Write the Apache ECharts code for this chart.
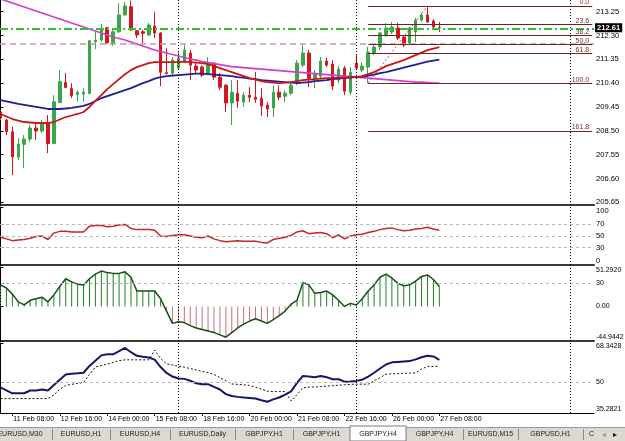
<!DOCTYPE html>
<html><head><meta charset="utf-8">
<script src="https://cdn.jsdelivr.net/npm/echarts@6/dist/echarts.min.js"></script>
<style>html,body{margin:0;padding:0;background:#fff}#c{width:625px;height:441px}</style>
</head><body><div id="c"></div>
<script>
// ---------- data ----------
const open = [209.25,208.93,208.46,207.45,207.96,208.17,208.61,208.49,208.79,207.99,
 209.62,210.43,210.19,209.95,209.96,209.99,212.05,212.12,212.61,211.99,
 212.45,213.12,213.45,212.49,212.45,212.32,212.68,212.40,210.82,210.80,
 211.00,211.24,211.60,211.08,211.04,210.80,211.20,210.64,210.32,209.61,
 210.00,209.64,209.92,209.84,209.80,209.53,209.41,210.04,209.88,210.00,
 210.44,211.12,211.60,210.60,210.68,211.28,211.16,210.52,211.00,210.04,
 211.20,210.92,211.04,211.60,211.84,212.32,212.44,212.60,212.24,212.00,
 212.44,212.92,213.12,212.88,212.62];
const close = [209.01,208.46,207.46,207.97,208.17,208.61,208.49,208.77,207.99,209.66,
 210.46,210.23,209.90,210.03,210.04,212.09,212.12,212.59,212.01,212.45,
 213.12,213.48,212.52,212.32,212.39,212.72,212.40,210.84,210.78,211.32,
 211.40,211.72,211.12,210.92,210.72,211.16,210.64,210.24,209.61,210.04,
 209.68,209.92,209.84,209.76,209.49,209.37,210.04,209.84,210.00,210.32,
 211.20,211.60,210.60,210.76,211.28,211.12,210.28,210.96,210.08,210.84,
 211.00,211.08,211.64,211.84,212.40,212.60,212.64,212.20,211.92,212.60,
 212.92,213.12,212.84,212.64,212.61];
const low = [208.93,208.33,206.73,207.33,207.01,208.06,208.13,208.41,207.61,207.97,
 209.61,210.20,209.80,209.66,209.66,209.96,211.76,212.05,211.96,211.88,
 212.40,213.10,212.48,212.20,212.00,212.28,212.20,210.28,210.76,210.68,
 210.92,211.20,210.52,210.80,210.64,210.72,210.52,210.12,209.25,208.73,
 209.41,209.45,209.64,209.61,209.09,209.05,209.05,209.72,209.64,209.92,
 210.32,211.04,210.24,210.20,210.60,211.04,210.12,210.40,209.92,209.92,
 210.92,210.84,210.40,211.52,211.72,212.24,212.36,212.12,211.84,211.92,
 212.04,212.84,212.80,212.52,212.44];
const high = [209.33,208.97,208.66,208.21,208.33,208.73,208.77,208.93,209.13,209.92,
 210.92,210.80,210.40,210.12,210.20,212.12,212.45,212.76,212.65,212.56,
 213.59,213.64,213.70,212.52,212.52,212.80,213.25,212.44,211.80,211.44,
 211.64,211.92,211.72,211.20,211.12,211.44,211.24,210.80,210.36,210.52,
 210.52,210.04,210.24,210.84,210.20,209.64,210.32,210.32,210.12,210.44,
 211.32,211.92,211.72,210.92,211.44,211.40,211.32,211.08,211.08,211.04,
 211.52,211.24,211.84,211.96,212.44,212.80,212.84,212.80,212.32,212.64,
 213.00,213.20,213.48,212.96,212.84];
const maRed = [209.17,209.07,208.97,208.91,208.85,208.83,208.81,208.81,208.81,208.85,
 208.95,209.05,209.11,209.17,209.25,209.45,209.69,209.92,210.16,210.36,
 210.56,210.76,210.92,211.04,211.12,211.20,211.24,211.24,211.24,211.24,
 211.24,211.26,211.24,211.22,211.20,211.16,211.08,211.00,210.92,210.84,
 210.76,210.68,210.60,210.54,210.48,210.44,210.42,210.40,210.42,210.44,
 210.48,210.52,210.54,210.56,210.58,210.60,210.60,210.62,210.62,210.64,
 210.64,210.68,210.76,210.84,210.96,211.08,211.16,211.24,211.32,211.42,
 211.52,211.62,211.72,211.78,211.84];
const maBlue = [209.72,209.67,209.62,209.57,209.53,209.49,209.45,209.41,209.37,209.37,
 209.37,209.39,209.41,209.45,209.49,209.57,209.69,209.80,209.88,209.96,
 210.04,210.12,210.20,210.30,210.40,210.48,210.58,210.64,210.68,210.70,
 210.72,210.74,210.76,210.78,210.78,210.76,210.74,210.72,210.70,210.68,
 210.64,210.62,210.58,210.56,210.52,210.50,210.48,210.46,210.44,210.42,
 210.40,210.42,210.44,210.48,210.50,210.52,210.56,210.58,210.60,210.62,
 210.64,210.66,210.70,210.74,210.80,210.84,210.90,210.96,211.02,211.08,
 211.14,211.20,211.26,211.30,211.34];
const maPink = [213.76,213.68,213.60,213.52,213.44,213.36,213.28,213.20,213.12,213.04,
 212.96,212.88,212.80,212.72,212.64,212.56,212.48,212.40,212.32,212.24,
 212.18,212.12,212.04,211.96,211.88,211.80,211.72,211.66,211.60,211.54,
 211.48,211.42,211.36,211.32,211.26,211.22,211.18,211.14,211.10,211.06,
 211.04,211.02,211.00,210.98,210.96,210.94,210.92,210.90,210.88,210.86,
 210.84,210.82,210.80,210.78,210.76,210.74,210.72,210.70,210.68,210.66,
 210.64,210.62,210.60,210.58,210.56,210.54,210.52,210.50,210.48,210.46,
 210.44,210.44,210.42,210.40,210.40];
const rsi = [48,45,42,43,44,46,49,50,44,55,
 58,58,57,57,57,67,68,68,66,67,
 69,70,63,61,61,61,60,50,49,51,
 52,52,50,48,47,50,45,42,40,41,
 42,41,41,41,39,38,44,46,48,51,
 57,59,54,55,56,54,47,52,45,50,
 52,53,56,58,61,63,64,61,59,60,
 62,63,65,62,60];
const osc = [28,24,16,6,2,8,10,12,6,15,
 26,36,32,29,28,36,42,46,44,43,
 43,45,38,20,20,20,20,10,-6,-22,
 -20,-21,-25,-28,-30,-32,-34,-37,-40,-34,
 -28,-23,-19,-16,-19,-22,-17,-12,-6,3,
 8,31,28,17,18,20,15,8,0,4,
 2,10,20,28,38,42,37,30,27,28,
 33,39,41,35,26];
const stochMain = [47.4,46,44.6,44.6,44.6,45.9,45.9,46.4,45.9,48.5,
 51,53.5,53.8,54,54.3,57.5,60,62.5,63,63,
 64.5,66,64,62.3,61.8,61.5,60.5,57,54.2,52.5,
 51.6,51.4,50.5,49.3,48.9,48.9,47.6,46.4,44.2,43.3,
 42.9,42.6,42.4,42.1,41.3,40.6,41.7,42.6,44,45.5,
 49.5,52.8,52.5,52.2,52.8,52.2,51.2,51.2,50.1,50.2,
 50.45,51,52.5,54.3,56.3,58.2,59.2,59.4,59.6,59.8,
 60.6,61.6,62.3,62,60.4];
const stochSignal = [42.1,42.1,42.1,42.1,42.1,42.1,42.1,42.1,42.1,43.8,
 46.5,48.3,48.8,49.3,49.7,53.5,57,57.7,58.4,59.2,
 60,60.4,60.4,60.4,60.4,60.4,65,61,58.5,58,
 57.3,56.9,56.3,55.6,55,54.4,53.5,52,50.5,49,
 48.8,48.6,48.3,47.5,46.6,45.6,45.4,45.4,45.4,41,
 44,47.2,47.5,47.6,47.8,48,48.2,48.4,48.6,48.8,
 48.9,48.9,48.9,50.5,52,53.6,53.8,53.9,54,54.1,
 54.3,56,57.3,57.3,57.3];
const dateTickBars = [2,10,18,26,34,42,50,58,66,74];
const dateTickLabels = ['11 Feb 08:00','12 Feb 16:00','14 Feb 00:00','15 Feb 08:00','18 Feb 16:00','20 Feb 00:00','21 Feb 08:00','22 Feb 16:00','26 Feb 00:00','27 Feb 08:00'];
const priceTicks = [205.65,206.60,207.55,208.50,209.45,210.40,211.35,212.30,213.25];
const rsiTicks = [0,30,50,70,100];
const rsiLevels = [30,50,70];
const oscTicks = [-44.9442,0,30,51.2920];
const oscTickLabels = ['-44.9442','0.00','30','51.2920'];
const oscLevels = [30];
const stochTicks = [35.2821,50,68.3428];
const stochTickLabels = ['35.2821','50','68.3428'];
const stochLevels = [50];
const separatorBars = [0,30,60,96];
const fibLevels = [0,23.6,38.2,50,61.8,100,161.8,261.8];
const fibLabels = ['0.0','23.6','38.2','50.0','61.8','100.0','161.8','261.8'];
const fibLowBar = 62, fibHighBar = 72;
const hLineGreen = 212.56, hLineRosy = 211.96;
const tabNames = ['EURUSD,M30','EURUSD,H1','EURUSD,H4','EURUSD,Daily','GBPJPY,H1','GBPJPY,H1','GBPJPY,H4','GBPJPY,H4','EURUSD,M15','GBPUSD,H1','C'];
const activeTab = 6;

// ---------- layout ----------
const X_MIN = -0.084, X_MAX = 100.08;
const PLOT_R = 31;
const FONT = 'Liberation Sans';
const tabEdges = [-12,52,110,170,235,293,350,406,463,518,583,600];

const idx = open.map((_, i) => i);
const fibHigh = high[fibHighBar], fibLow = low[fibLowBar];
const fibPrice = l => fibHigh - l / 100 * (fibHigh - fibLow);

function nearestFmt(vals, texts) {
  return v => { let k = 0, b = Infinity; vals.forEach((x, j) => { const d = Math.abs(x - v); if (d < b) { b = d; k = j; } }); return texts[k]; };
}
const sepLines = separatorBars.map(b => ({ xAxis: b, lineStyle: { color: '#000', width: 1, type: [1, 2] } }));
const levelLines = arr => arr.map(v => ({ yAxis: v, lineStyle: { color: '#b8b8b8', width: 1, type: [3, 3] } }));

const grids = [
  { left: 0, right: PLOT_R, top: 0, height: 205 },
  { left: 0, right: PLOT_R, top: 207, height: 58 },
  { left: 0, right: PLOT_R, top: 267, height: 74 },
  { left: 0, right: PLOT_R, top: 343, height: 70 }
].map(g => Object.assign(g, { outerBoundsMode: 'none', containLabel: false }));

const xAxes = grids.map((g, k) => ({
  type: 'value', gridIndex: k, min: X_MIN, max: X_MAX,
  splitLine: { show: false },
  axisLine: { show: true, onZero: false, lineStyle: { color: k === 3 ? '#000' : '#3a3a3a', width: k === 3 ? 1 : 2 } },
  axisTick: k === 3 ? { show: true, customValues: dateTickBars, length: 3, lineStyle: { color: '#000' } } : { show: false },
  axisLabel: k === 3 ? {
    show: true, customValues: dateTickBars, margin: 3, align: 'left', padding: [0, 0, 0, 1],
    fontSize: 7, color: '#000', fontFamily: FONT,
    formatter: nearestFmt(dateTickBars, dateTickLabels)
  } : { show: false }
}));

const yBase = (k, min, max, ticks, fmt, fs) => ({
  type: 'value', gridIndex: k, position: 'right', min, max,
  splitLine: { show: false },
  axisLine: { show: true, lineStyle: { color: '#000', width: 1 } },
  axisTick: { show: true, customValues: ticks, length: 3, lineStyle: { color: '#000' } },
  axisLabel: { show: true, customValues: ticks, margin: 2, fontSize: fs, color: '#000', fontFamily: FONT, formatter: fmt }
});

const yAxes = [
  yBase(0, 205.54, 213.717, priceTicks, v => v.toFixed(2), 7.6),
  yBase(1, 0, 100, rsiTicks, v => String(Math.round(v)), 7.6),
  yBase(2, -44.9442, 51.2920, oscTicks, nearestFmt(oscTicks, oscTickLabels), 7),
  yBase(3, 35.2821, 68.3428, stochTicks, nearestFmt(stochTicks, stochTickLabels), 7)
];
yAxes.slice(1).forEach(a => { a.axisLabel.verticalAlignMinLabel = 'bottom'; a.axisLabel.verticalAlignMaxLabel = 'top'; });

const fibMarks = fibLevels.map((l, j) => [
  { coord: [fibLowBar, fibPrice(l)], lineStyle: { color: '#6e2424', width: 1, type: 'solid' },
    label: { show: true, position: 'insideEndTop', formatter: fibLabels[j], color: '#7a2e2e', fontSize: 7, fontFamily: FONT, distance: [3, 0] } },
  { coord: [X_MAX - 0.3, fibPrice(l)] }
]);

const lastClose = close[close.length - 1];
const candleMarks = [
  { yAxis: hLineRosy, lineStyle: { color: '#c79a9a', width: 1.5, type: [6, 4] } },
  { yAxis: hLineGreen, lineStyle: { color: '#2fc32f', width: 2, type: [8, 3, 2, 3] } },
  ...sepLines,
  ...fibMarks,
  [ { coord: [fibLowBar, fibLow], lineStyle: { color: '#b04848', width: 1, type: [2, 2] } }, { coord: [fibHighBar, fibHigh] } ]
];

const line = (name, k, arr, color, width, extra) => Object.assign({
  name, type: 'line', xAxisIndex: k, yAxisIndex: k, data: idx.map(i => [i, arr[i]]),
  showSymbol: false, symbol: 'none', lineStyle: { color, width }, z: 3, silent: true
}, extra || {});

const series = [
  {
    type: 'candlestick', xAxisIndex: 0, yAxisIndex: 0, barWidth: 3,
    dimensions: ['x', 'open', 'close', 'lowest', 'highest'],
    encode: { x: 'x', y: ['open', 'close', 'lowest', 'highest'] },
    data: idx.map(i => [i, open[i], close[i], low[i], high[i]]),
    itemStyle: { color: '#3ca54b', color0: '#d3161f', borderColor: '#3ca54b', borderColor0: '#d3161f', borderWidth: 1 },
    markLine: { silent: true, symbol: 'none', animation: false, label: { show: false }, data: candleMarks },
    z: 2
  },
  line('MA slow', 0, maPink, '#cf3fcf', 1.6),
  line('MA mid', 0, maBlue, '#1c1f95', 1.8),
  line('MA fast', 0, maRed, '#cc1515', 1.8, {
    markLine: { silent: true, symbol: 'none', animation: false, data: [
      { yAxis: lastClose, lineStyle: { color: 'rgba(0,0,0,0)', width: 0 },
        label: { show: true, position: 'end', distance: 1, formatter: lastClose.toFixed(2), color: '#fff', backgroundColor: '#000', padding: [1, 2, 0, 2], fontSize: 7.6, fontWeight: 'bold', fontFamily: FONT } }
    ] }
  }),
  line('RSI', 1, rsi, '#cc2424', 1.5, {
    markLine: { silent: true, symbol: 'none', animation: false, label: { show: false }, data: [...levelLines(rsiLevels), ...sepLines] }
  }),
  {
    type: 'bar', xAxisIndex: 2, yAxisIndex: 2, barWidth: 1, silent: true,
    data: idx.map(i => [i, osc[i]]),
    itemStyle: { color: p => (p.value[1] >= 0 ? '#217e21' : '#c7707c') },
    markLine: { silent: true, symbol: 'none', animation: false, label: { show: false }, data: [...levelLines(oscLevels), ...sepLines] }
  },
  line('Osc', 2, osc, '#174f17', 1.5),
  line('Signal', 3, stochSignal, '#111', 1, {
    lineStyle: { color: '#111', width: 1, type: [2, 2] },
    markLine: { silent: true, symbol: 'none', animation: false, label: { show: false }, data: [...levelLines(stochLevels), ...sepLines] }
  }),
  line('Main', 3, stochMain, '#14166b', 2)
];

// ---------- tab bar ----------
const graphic = [
  { type: 'rect', shape: { x: 0, y: 427, width: 625, height: 14 }, style: { fill: '#dcd9d2' }, silent: true },
  { type: 'line', shape: { x1: 0, y1: 427.5, x2: 625, y2: 427.5 }, style: { stroke: '#9a9a9a', lineWidth: 1 }, silent: true },
  { type: 'rect', shape: { x: tabEdges[activeTab], y: 426, width: tabEdges[activeTab + 1] - tabEdges[activeTab], height: 15 },
    style: { fill: '#ffffff', stroke: '#7a7a7a', lineWidth: 1 }, silent: true }
];
tabNames.forEach((t, j) => {
  const a = tabEdges[j], b = tabEdges[j + 1];
  if (j > 0 && j !== activeTab && j !== activeTab + 1) {
    graphic.push({ type: 'line', shape: { x1: a + 0.5, y1: 429, x2: a + 0.5, y2: 440 }, style: { stroke: '#8a8a8a', lineWidth: 1 }, silent: true });
  }
  graphic.push({ type: 'text', x: (a + b) / 2, y: 434.5, silent: true,
    style: { text: t, fill: '#222', font: '7px "Liberation Sans"', align: 'center', verticalAlign: 'middle' } });
});
graphic.push({ type: 'text', x: 604, y: 434.5, silent: true, style: { text: '\u25C2', fill: '#999', font: '8px "DejaVu Sans"', align: 'center', verticalAlign: 'middle' } });
graphic.push({ type: 'text', x: 615, y: 434.5, silent: true, style: { text: '\u25B8', fill: '#111', font: '8px "DejaVu Sans"', align: 'center', verticalAlign: 'middle' } });

const chart = echarts.init(document.getElementById('c'), null, { renderer: 'canvas' });
chart.setOption({
  animation: false,
  backgroundColor: '#ffffff',
  textStyle: { fontFamily: FONT },
  grid: grids, xAxis: xAxes, yAxis: yAxes, series, graphic
});
</script></body></html>
